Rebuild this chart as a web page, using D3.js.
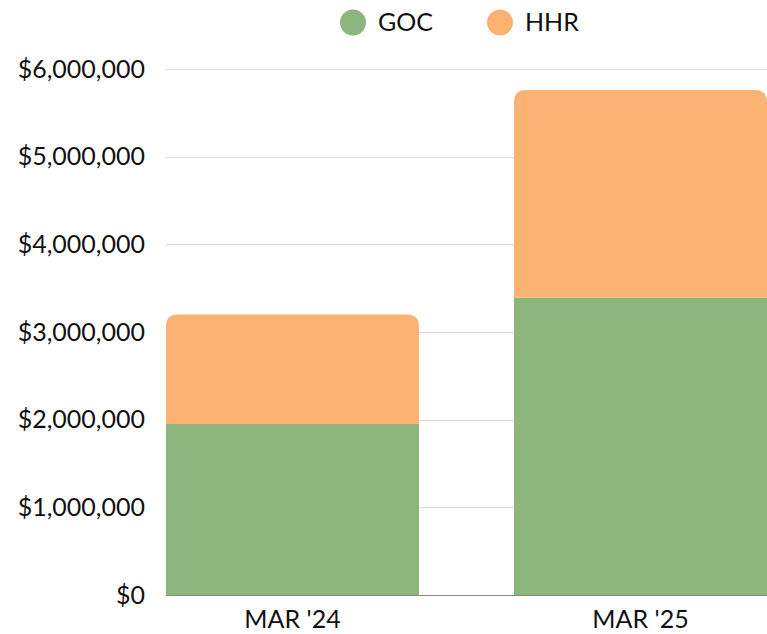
<!DOCTYPE html>
<html>
<head>
<meta charset="utf-8">
<script src="https://cdn.jsdelivr.net/npm/d3@7"></script>
<style>
  html, body { margin: 0; padding: 0; background: #fff; }
  #chart { width: 767px; height: 634px; overflow: hidden; }
  text { font-family: Lato, "Open Sans", sans-serif; fill: #111; }
</style>
</head>
<body>
<div id="chart"></div>
<script>
// data
const PERIODS = ["MAR '24", "MAR '25"];
const SERIES = ["GOC", "HHR"];
const GOC_VALUES = [1950000, 3390000];
const HHR_VALUES = [1250000, 2370000];
const Y_TICKS = [0, 1000000, 2000000, 3000000, 4000000, 5000000, 6000000];

const COLOURS = { GOC: "#8db57e", HHR: "#fbb273" };

const width = 767, height = 634;
const margin = { top: 69, right: 0, bottom: 39, left: 166 };
const FONT_SIZE = "25px";

const svg = d3.select("#chart").append("svg")
  .attr("width", width)
  .attr("height", height);

const rows = PERIODS.map((p, i) => ({ period: p, GOC: GOC_VALUES[i], HHR: HHR_VALUES[i] }));
const stacked = d3.stack().keys(SERIES)(rows);

const x = d3.scaleBand()
  .domain(PERIODS)
  .range([margin.left, width - margin.right])
  .paddingInner(0.273)
  .paddingOuter(0);

const y = d3.scaleLinear()
  .domain([0, 6000000])
  .range([height - margin.bottom, margin.top]);

// grid
svg.append("g")
  .selectAll("line")
  .data(Y_TICKS.slice(1))
  .join("line")
  .attr("x1", margin.left)
  .attr("x2", width)
  .attr("y1", d => Math.round(y(d)) + 0.5)
  .attr("y2", d => Math.round(y(d)) + 0.5)
  .attr("stroke", "#dcdcdc")
  .attr("stroke-width", 1);

// y axis labels
const yAxis = svg.append("g")
  .attr("transform", `translate(${margin.left},0)`)
  .call(d3.axisLeft(y).tickValues(Y_TICKS).tickSize(0).tickPadding(21)
    .tickFormat(d => "$" + d3.format(",")(d)));
yAxis.select(".domain").remove();
yAxis.selectAll("text")
  .style("font-size", FONT_SIZE)
  .style("font-family", "Lato, sans-serif")
  .attr("fill", "#111");

// bars
const r = 12;
function topRounded(x0, y0, w, h, rad) {
  const rr = Math.min(rad, h, w / 2);
  return `M${x0},${y0 + h}V${y0 + rr}Q${x0},${y0} ${x0 + rr},${y0}` +
         `H${x0 + w - rr}Q${x0 + w},${y0} ${x0 + w},${y0 + rr}V${y0 + h}Z`;
}

stacked.forEach((layer, li) => {
  const isTop = li === stacked.length - 1;
  svg.append("g")
    .selectAll("path")
    .data(layer)
    .join("path")
    .attr("fill", COLOURS[layer.key])
    .attr("d", d => {
      const x0 = x(d.data.period), w = x.bandwidth();
      const y0 = y(d[1]), h = y(d[0]) - y(d[1]);
      return isTop ? topRounded(x0, y0, w, h, r) : `M${x0},${y0}h${w}v${h}h${-w}Z`;
    });
});

// baseline + x labels
const xAxis = svg.append("g")
  .attr("transform", `translate(0,${y(0)})`)
  .call(d3.axisBottom(x).tickSize(0).tickPadding(15));
xAxis.select(".domain").attr("stroke", "#888").attr("d", `M${margin.left},0.5H${width}`);
xAxis.selectAll("text")
  .style("font-size", FONT_SIZE)
  .style("font-family", "Lato, sans-serif")
  .attr("fill", "#111");

// legend
const legendPos = [353, 500];
const legend = svg.append("g").selectAll("g")
  .data(SERIES)
  .join("g")
  .attr("transform", (d, i) => `translate(${legendPos[i]},22.5)`);
legend.append("circle")
  .attr("r", 13)
  .attr("fill", d => COLOURS[d]);
legend.append("text")
  .attr("x", 25)
  .attr("dy", "0.35em")
  .style("font-size", FONT_SIZE)
  .text(d => d);
</script>
</body>
</html>
